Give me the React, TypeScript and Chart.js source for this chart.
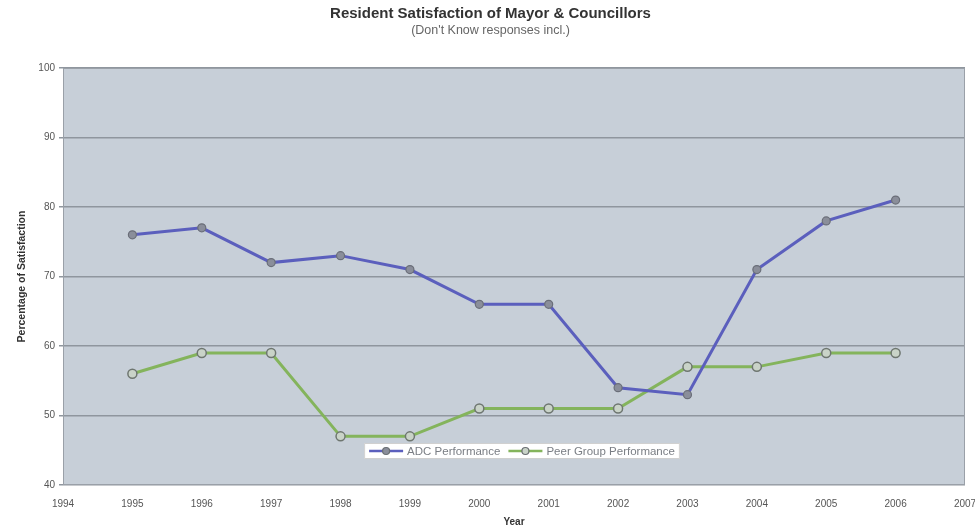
import React, { useEffect, useRef } from "react";
import { Chart, registerables } from "chart.js";

Chart.register(...registerables);

const years = [1995, 1996, 1997, 1998, 1999, 2000, 2001, 2002, 2003, 2004, 2005, 2006];
const adcValues = [76, 77, 72, 73, 71, 66, 66, 54, 53, 71, 78, 81];
const peerValues = [56, 59, 59, 47, 47, 51, 51, 51, 57, 57, 59, 59];
const seriesNames = ["ADC Performance", "Peer Group Performance"];
const titleText = "Resident Satisfaction of Mayor & Councillors";
const subtitleText = "(Don't Know responses incl.)";
const yTitle = "Percentage of Satisfaction";
const xTitle = "Year";

const BLUE = "#5b5fbd";
const GREEN = "#84b45c";
const PLOT_BG = "#c7cfd8";
const FONT = "'Liberation Sans', Arial, sans-serif";

const bgPlugin = {
  id: "plotBg",
  beforeDraw(chart: any) {
    const { ctx, chartArea } = chart;
    ctx.save();
    ctx.fillStyle = PLOT_BG;
    ctx.fillRect(chartArea.left, chartArea.top, chartArea.right - chartArea.left, chartArea.bottom - chartArea.top);
    ctx.restore();
  },
  afterDraw(chart: any) {
    const { ctx, chartArea } = chart;
    ctx.save();
    ctx.strokeStyle = "#9aa0a8";
    ctx.lineWidth = 1;
    ctx.strokeRect(chartArea.left + 0.5, chartArea.top + 0.5, chartArea.right - chartArea.left - 1, chartArea.bottom - chartArea.top - 1);
    // legend box
    ctx.font = "11.5px " + FONT;
    const sw = 34;
    const gap = 4;
    const items = chart.data.datasets.map((d: any) => ({
      label: d.label,
      color: d.borderColor,
      fill: d.pointBackgroundColor,
      w: sw + gap + ctx.measureText(d.label).width,
    }));
    const total = items.reduce((s: number, it: any) => s + it.w, 0) + 8 * (items.length - 1) + 10;
    const cx = (chartArea.left + chartArea.right) / 2;
    const bx = cx - total / 2 + 8;
    const by = 443;
    const bh = 16;
    ctx.fillStyle = "#ffffff";
    ctx.fillRect(bx, by, total, bh);
    ctx.strokeStyle = "#d0d0d0";
    ctx.strokeRect(bx + 0.5, by + 0.5, total - 1, bh - 1);
    let x = bx + 5;
    const y = by + bh / 2;
    items.forEach((it: any) => {
      ctx.strokeStyle = it.color;
      ctx.lineWidth = 2.5;
      ctx.beginPath();
      ctx.moveTo(x, y);
      ctx.lineTo(x + sw, y);
      ctx.stroke();
      ctx.beginPath();
      ctx.arc(x + sw / 2, y, 3.5, 0, Math.PI * 2);
      ctx.fillStyle = it.fill;
      ctx.fill();
      ctx.strokeStyle = "#6a6e72";
      ctx.lineWidth = 1.2;
      ctx.stroke();
      ctx.fillStyle = "#7a7e84";
      ctx.textBaseline = "middle";
      ctx.textAlign = "left";
      ctx.fillText(it.label, x + sw + gap, y + 0.5);
      x += it.w + 8;
    });
    ctx.restore();
  },
};

export default function App() {
  const ref = useRef<HTMLCanvasElement>(null);
  useEffect(() => {
    if (!ref.current) return;
    const chart = new Chart(ref.current, {
      type: "line",
      data: {
        datasets: [
          {
            label: seriesNames[0],
            data: years.map((y, i) => ({ x: y, y: adcValues[i] })),
            borderColor: BLUE,
            borderWidth: 3,
            pointRadius: 4,
            pointBackgroundColor: "#8a8e9a",
            pointBorderColor: "#6a6e78",
            pointBorderWidth: 1.2,
            tension: 0,
          },
          {
            label: seriesNames[1],
            data: years.map((y, i) => ({ x: y, y: peerValues[i] })),
            borderColor: GREEN,
            borderWidth: 3,
            pointRadius: 4.5,
            pointBackgroundColor: "#c9d3c8",
            pointBorderColor: "#6e7670",
            pointBorderWidth: 1.5,
            tension: 0,
          },
        ],
      },
      plugins: [bgPlugin],
      options: {
        animation: false,
        responsive: false,
        layout: { padding: { left: 16, right: 10, top: 0, bottom: 0 } },
        plugins: {
          legend: { display: false },
          tooltip: { enabled: false },
          title: {
            display: true,
            text: titleText,
            color: "#333333",
            font: { family: FONT, size: 15, weight: "bold" },
            padding: { top: 5, bottom: 0 },
          },
          subtitle: {
            display: true,
            text: subtitleText,
            color: "#666666",
            font: { family: FONT, size: 12.5 },
            padding: { top: 0, bottom: 30 },
          },
        },
        scales: {
          x: {
            type: "linear",
            min: 1994,
            max: 2007,
            ticks: {
              stepSize: 1,
              color: "#555555",
              font: { family: FONT, size: 10 },
              callback: (v: any) => String(v),
              padding: 9,
            },
            grid: { display: false, drawTicks: true, tickLength: 4, color: "#aaaaaa" },
            border: { display: false },
            title: {
              display: true,
              text: xTitle,
              color: "#333333",
              font: { family: FONT, size: 10, weight: "bold" },
              padding: { top: 0, bottom: 0 },
            },
            afterFit: (s: any) => { s.height = 43; s.paddingRight = 0; s.paddingLeft = 0; },
          },
          y: {
            min: 40,
            max: 100,
            ticks: {
              stepSize: 10,
              color: "#555555",
              font: { family: FONT, size: 10 },
              padding: 4,
            },
            grid: { color: "#8f969e", lineWidth: 1.5, tickLength: 4 },
            border: { display: false },
            title: {
              display: true,
              text: yTitle,
              color: "#333333",
              font: { family: FONT, size: 10.5, weight: "bold" },
              padding: { top: 0, bottom: 8 },
            },
            afterFit: (s: any) => { s.width = 47; },
          },
        },
      },
    });
    return () => chart.destroy();
  }, []);
  return (
    <div style={{ position: "fixed", left: 0, top: 0, width: 975, height: 528, background: "#ffffff" }}>
      <canvas ref={ref} width={975} height={528} style={{ width: 975, height: 528 }} />
    </div>
  );
}
